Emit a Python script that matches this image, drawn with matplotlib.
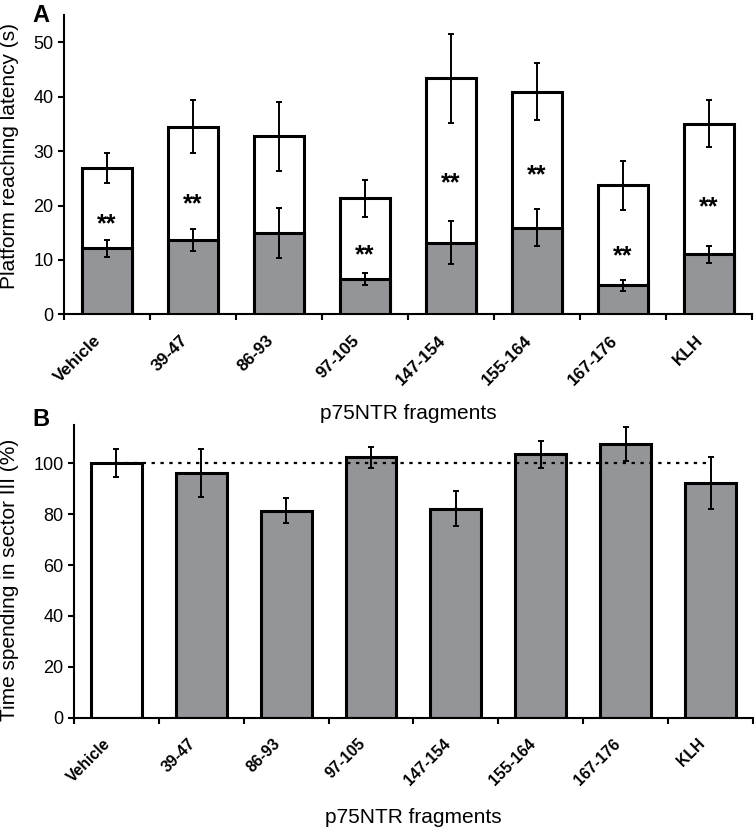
import numpy as np
import matplotlib
matplotlib.use("Agg")
import matplotlib.pyplot as plt
from matplotlib.transforms import ScaledTranslation

plt.rcParams["font.family"] = ["Liberation Sans", "DejaVu Sans"]

# ── Data ────────────────────────────────────────────────────────────────────
fragments = ["Vehicle", "39-47", "86-93", "97-105", "147-154", "155-164", "167-176", "KLH"]

# Panel A: latency, first trial (white) and last trial (gray)
lat_first = [26.9, 34.5, 32.7, 21.3, 43.4, 40.9, 23.7, 35.0]
lat_first_err = [2.7, 4.9, 6.4, 3.4, 8.2, 5.2, 4.5, 4.3]
lat_last = [12.1, 13.7, 14.9, 6.5, 13.2, 15.9, 5.3, 11.0]
lat_last_err = [1.5, 2.0, 4.6, 1.1, 3.9, 3.4, 1.1, 1.6]
sig_marks = ["**", "**", "", "**", "**", "**", "**", "**"]
sig_y = [15.3, 19.0, 0, 9.5, 22.8, 24.3, 9.4, 18.3]

# Panel B: time in sector III (% of vehicle)
sector_pct = [100.0, 96.3, 81.4, 102.3, 82.2, 103.6, 107.5, 92.3]
sector_err = [5.5, 9.4, 5.0, 4.2, 7.0, 5.3, 6.6, 10.3]

GRAY = "#939598"
BAR_W = 0.59

fig = plt.figure(figsize=(7.54, 8.36), dpi=100)
axA = fig.add_axes([0.0849, 0.624, 0.9124, 0.358])
axB = fig.add_axes([0.098, 0.1415, 0.9007, 0.350])

x = np.arange(len(fragments))
err_kw = dict(ecolor="black", elinewidth=1.4, capsize=2.5, capthick=1.4)
label_shift = ScaledTranslation(-8 / 100, 0, fig.dpi_scale_trans)


def style_axis(ax, ymax, ystep, size):
    for s in ["top", "right"]:
        ax.spines[s].set_visible(False)
    for s in ["left", "bottom"]:
        ax.spines[s].set_linewidth(1.5)
    ax.set_xlim(-0.5, len(fragments) - 0.5)
    ax.set_ylim(0, ymax)
    ax.set_yticks(np.arange(0, ymax, ystep))
    ax.set_xticks(x)
    ax.set_xticks(np.arange(-0.5, len(fragments)), minor=True)
    ax.tick_params(axis="x", which="major", length=0, pad=17)
    ax.tick_params(axis="x", which="minor", length=4, width=1.5, direction="out")
    ax.tick_params(axis="y", length=4, width=1.5, direction="out", labelsize=13)
    ax.set_xticklabels(fragments, rotation=45, ha="right", va="center",
                       rotation_mode="anchor", fontsize=size, fontweight="bold")
    for lab in ax.get_xticklabels():
        lab.set_transform(lab.get_transform() + label_shift)


# ── Panel A ─────────────────────────────────────────────────────────────────
axA.bar(x, lat_first, BAR_W, color="white", edgecolor="black", linewidth=2.2,
        yerr=lat_first_err, error_kw=err_kw, zorder=2)
axA.bar(x, lat_last, BAR_W, color=GRAY, edgecolor="black", linewidth=2.2,
        yerr=lat_last_err, error_kw=err_kw, zorder=3)
for xi, m, yi in zip(x, sig_marks, sig_y):
    if m:
        axA.text(xi, yi, m, ha="center", va="baseline", fontsize=18,
                 fontweight="bold", zorder=4)
style_axis(axA, 55, 10, 12.3)
axA.set_ylabel("Platform reaching latency (s)", fontsize=15)
axA.yaxis.set_label_coords(-0.066, 0.53)
axA.set_xlabel("p75NTR fragments", fontsize=15)
axA.xaxis.set_label_coords(0.5, -0.30)
fig.text(32 / 754, 1 - 4 / 836, "A", fontsize=17, fontweight="bold", va="top")

# ── Panel B ─────────────────────────────────────────────────────────────────
colors_b = ["white"] + [GRAY] * (len(fragments) - 1)
axB.bar(x, sector_pct, BAR_W + 0.01, color=colors_b, edgecolor="black",
        linewidth=2.2, yerr=sector_err, error_kw=err_kw, zorder=2)
axB.plot([0, len(fragments) - 1], [100, 100], color="black", linestyle=(0, (1.5, 2.5)),
         linewidth=1.6, zorder=3)
style_axis(axB, 115, 20, 11.3)
axB.set_ylabel("Time spending in sector III (%)", fontsize=15)
axB.yaxis.set_label_coords(-0.081, 0.47)
axB.set_xlabel("p75NTR fragments", fontsize=15)
axB.xaxis.set_label_coords(0.5, -0.31)
fig.text(32 / 754, 1 - 408 / 836, "B", fontsize=17, fontweight="bold", va="top")

fig.savefig("out.png", dpi=100)
